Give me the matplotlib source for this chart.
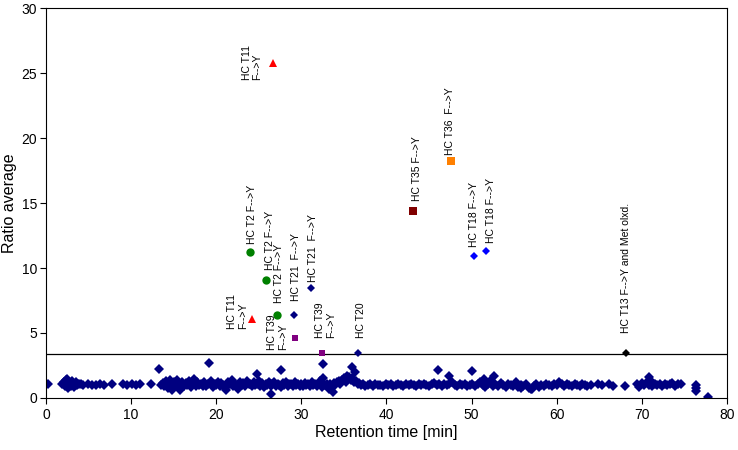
import numpy as np
import matplotlib
matplotlib.use("Agg")
import matplotlib.pyplot as plt

plt.rcParams['font.family'] = ['Liberation Sans', 'DejaVu Sans']

# bulk of identified peptides (ratio ~1)
bulk_x = [
    0.2, 1.9, 2.1, 2.2, 2.3, 2.4, 2.5, 2.6, 2.7, 2.8,
    2.9, 3.0, 3.1, 3.2, 3.3, 3.5, 3.7, 3.9, 4.1, 4.3,
    4.9, 5.4, 5.9, 6.4, 6.8, 7.7, 9.0, 9.5, 10.1, 10.6,
    11.1, 12.3, 13.25, 19.15,
    13.5, 13.7, 13.9, 14.1, 14.3, 14.5, 14.6, 14.8, 15.0, 15.2,
    15.4, 15.6, 15.8, 16.0, 16.2, 16.4, 16.6, 16.8, 17.0, 17.2,
    17.4, 17.6, 17.8, 18.0, 18.2, 18.4,
    18.6, 18.8, 19.0, 19.4, 19.6, 19.8, 20.0, 20.2, 20.4, 20.6,
    20.8, 21.0, 21.2, 21.4, 21.6, 21.8, 22.0, 22.2, 22.4, 22.6,
    22.8, 23.0, 23.2, 23.4, 23.6, 23.8,
    24.0, 24.2, 24.4, 24.6, 24.8, 25.0, 25.2, 25.4, 25.6, 25.8,
    26.0, 26.2, 26.4, 26.6, 26.8, 27.0, 27.2, 27.4, 27.6, 27.8,
    28.0, 28.2, 28.4, 28.6, 28.8, 29.0, 29.2, 29.4, 29.6, 29.8,
    24.8, 26.4, 27.6,
    30.0, 30.2, 30.4, 30.6, 30.8, 31.0, 31.2, 31.4, 31.6, 31.8,
    32.0, 32.2, 32.4, 32.6, 32.8, 33.0, 33.2, 33.4, 33.6, 33.8,
    34.0, 34.2, 34.4, 34.6, 34.8, 35.0, 35.2, 35.4, 35.6, 35.8,
    36.0, 36.2, 36.4, 36.6, 36.8, 37.0,
    32.6, 33.7, 36.0, 36.3,
    37.2, 37.5, 37.8, 38.1, 38.4, 38.7, 39.0, 39.3, 39.6, 39.9,
    40.2, 40.5, 40.8, 41.1, 41.4, 41.7, 42.0, 42.3, 42.6, 42.9,
    43.2, 43.5, 43.8, 44.1, 44.4, 44.7, 45.0, 45.3, 45.6, 45.9,
    46.2, 46.5, 46.8, 47.1, 47.4, 47.7, 48.0, 48.3, 48.6, 48.9,
    49.2, 49.5, 49.8, 50.1, 50.4, 50.7, 51.0, 51.3, 51.6, 51.9,
    52.2, 52.5, 52.8, 53.1, 53.4, 53.7, 54.0, 54.3, 54.6, 54.9,
    55.2, 55.5, 55.8, 56.1, 56.4, 56.7, 57.0, 57.3, 57.6, 57.9,
    58.2, 58.5, 58.8, 59.1, 59.4, 59.7, 60.0, 60.3, 60.6, 60.9,
    61.2, 61.5, 61.8, 62.1, 62.4, 62.7, 63.0, 63.3, 63.6,
    46.1, 47.4, 50.0, 52.6, 51.5, 57.1, 55.8,
    64.0, 64.9, 65.3, 66.2, 66.6, 68.0, 69.4, 69.7, 70.0, 70.3,
    70.6, 70.9, 71.2, 71.5, 71.8, 72.1, 72.4, 72.7, 73.0, 73.3,
    73.6, 73.9, 74.2, 74.6, 76.4, 76.4, 76.4, 77.8,
    70.9, 71.0,
]
bulk_y = [
    1.1, 1.05, 1.2, 0.9, 1.35, 1.0, 1.45, 0.8, 1.25, 1.1,
    0.95, 1.3, 1.0, 1.15, 0.85, 1.2, 1.0, 1.1, 1.05, 1.0,
    1.05, 1.0, 1.0, 1.05, 1.0, 1.1, 1.05, 1.0, 1.05, 1.0,
    1.05, 1.05, 2.23, 2.67,
    1.0, 1.15, 0.9, 1.3, 0.8, 1.1, 1.4, 0.6, 1.2, 0.95,
    1.35, 1.05, 0.65, 1.25, 0.9, 1.15, 1.0, 1.3, 0.85, 1.1,
    1.45, 0.95, 1.2, 1.0, 1.1, 0.9,
    1.2, 0.95, 1.05, 1.3, 0.85, 1.1, 1.0, 1.25, 0.9, 1.15,
    1.0, 0.8, 0.65, 1.2, 1.05, 1.35, 0.9, 1.1, 1.0, 0.7,
    1.25, 1.0, 1.15, 0.9, 1.3, 1.05,
    1.1, 0.9, 1.2, 1.0, 1.05, 1.3, 0.95, 1.15, 0.85, 1.1,
    1.0, 1.2, 0.9, 1.05, 1.25, 0.95, 1.1, 1.0, 0.85, 1.15,
    1.0, 1.2, 0.9, 1.05, 1.1, 0.95, 1.2, 1.0, 1.1, 0.9,
    1.82, 0.28, 2.15,
    1.05, 0.95, 1.15, 1.0, 1.1, 0.9, 1.2, 1.0, 1.05, 0.95,
    1.1, 1.3, 0.85, 1.5, 1.0, 1.1, 0.7, 1.05, 0.9, 1.15,
    1.0, 1.2, 1.3, 1.1, 1.4, 1.5, 1.25, 1.7, 1.6, 1.35,
    1.5, 1.2, 1.3, 1.05, 1.15, 1.0,
    2.6, 0.44, 2.4, 2.0,
    1.05, 0.95, 1.0, 1.1, 0.95, 1.05, 1.0, 1.0, 0.95, 1.05,
    1.0, 1.1, 0.95, 1.0, 1.05, 1.0, 0.95, 1.05, 1.0, 1.1,
    1.0, 0.95, 1.05, 1.0, 1.1, 1.0, 0.95, 1.05, 1.15, 1.0,
    1.05, 0.95, 1.1, 1.0, 1.05, 1.2, 1.0, 0.95, 1.1, 1.0,
    1.05, 0.95, 1.0, 1.1, 0.9, 1.05, 1.2, 1.0, 0.85, 1.1,
    1.3, 0.95, 1.05, 0.9, 1.15, 1.0, 0.85, 1.1, 1.0, 0.9,
    1.2, 0.85, 1.0, 0.95, 1.1, 0.8, 0.7, 0.9, 1.05, 0.85,
    1.0, 0.95, 1.05, 1.0, 0.9, 1.05, 1.0, 1.2, 1.1, 0.95,
    1.05, 1.0, 0.9, 1.05, 1.0, 0.95, 1.05, 1.0, 0.95,
    2.15, 1.72, 2.1, 1.72, 1.43, 0.7, 0.8,
    1.0, 1.05, 1.0, 1.1, 0.95, 0.9, 1.05, 0.85, 1.15, 1.0,
    1.2, 1.0, 0.9, 1.1, 1.0, 1.05, 0.95, 1.1, 1.0, 1.05,
    1.15, 0.95, 1.1, 1.05, 1.0, 0.75, 0.5, 0.1,
    1.6, 1.35,
]

threshold = 3.4

# labelled outliers: (x, y) per series
t11_x, t11_y = [26.65, 24.2], [25.8, 6.05]
t2_x, t2_y = [24.0, 25.8, 27.1], [11.2, 9.1, 6.35]
t21_x, t21_y = [29.1, 31.1], [6.4, 8.5]
t39_x, t39_y = [29.3, 32.4], [4.65, 3.45]
t20_x, t20_y = [36.7], [3.45]
t35_x, t35_y = [43.1], [14.4]
t36_x, t36_y = [47.6], [18.2]
t18_x, t18_y = [50.3, 51.7], [10.9, 11.3]
t13_x, t13_y = [68.2], [3.45]

t11_lab = ["HC T11\nF-->Y", "HC T11\nF-->Y"]
t2_lab = ["HC T2 F-->Y", "HC T2 F-->Y", "HC T2 F-->Y"]
t21_lab = ["HC T21  F-->Y", "HC T21  F-->Y"]
t39_lab = ["HC T39\nF-->Y", "HC T39\nF-->Y"]
t20_lab = ["HC T20"]
t35_lab = ["HC T35 F-->Y"]
t36_lab = ["HC T36  F-->Y"]
t18_lab = ["HC T18 F-->Y", "HC T18 F-->Y"]
t13_lab = ["HC T13 F-->Y and Met olxd."]

fig = plt.figure(figsize=(7.38, 4.5), dpi=100)
ax = fig.add_axes([0.0623, 0.1156, 0.9227, 0.8664])

ax.axhline(threshold, color='black', lw=0.9, zorder=1)
ax.plot(bulk_x, bulk_y, 'D', color='#000080', ms=4.6, mew=0, zorder=2)

series = [
    (t11_x, t11_y, t11_lab, '^', '#ff0000', 5.8),
    (t2_x, t2_y, t2_lab, 'o', '#008000', 6.0),
    (t21_x, t21_y, t21_lab, 'D', '#000080', 4.2),
    (t39_x, t39_y, t39_lab, 's', '#800080', 3.8),
    (t20_x, t20_y, t20_lab, 'D', '#000080', 4.2),
    (t35_x, t35_y, t35_lab, 's', '#800000', 5.2),
    (t36_x, t36_y, t36_lab, 's', '#ff8000', 5.2),
    (t18_x, t18_y, t18_lab, 'D', '#0000ff', 4.2),
    (t13_x, t13_y, t13_lab, 'D', '#000000', 4.2),
]
for xs, ys, labs, mk, col, ms in series:
    ax.plot(xs, ys, mk, color=col, ms=ms, mew=0, zorder=3)

# label offsets in points (dx, dy); some labels sit beside the marker
offsets = {
    't11': [(-15, 0), (-10.5, 6)],
    't2': [(1, 6), (3.5, 7), (1.5, 9)],
    't21': [(1.5, 10), (1.5, 4)],
    't39': [(-13, 4), (2.5, 11)],
    't20': [(2, 11)],
    't35': [(3, 7)],
    't36': [(-0.5, 4.5)],
    't18': [(0, 7), (3.5, 6)],
    't13': [(0, 14.5)],
}
keys = ['t11', 't2', 't21', 't39', 't20', 't35', 't36', 't18', 't13']
for key, (xs, ys, labs, mk, col, ms) in zip(keys, series):
    for i, (x, y, lab) in enumerate(zip(xs, ys, labs)):
        dx, dy = offsets[key][i]
        side = key == 't11' or (key == 't39' and i == 0)
        ax.annotate(lab, (x, y), xytext=(dx, dy), textcoords='offset points',
                    rotation=90, fontsize=7.5, ha='center',
                    va='center' if side else 'bottom',
                    multialignment='left', linespacing=1.1)

ax.set_xlim(0, 80)
ax.set_ylim(0, 30)
ax.set_xticks(np.arange(0, 81, 10))
ax.set_yticks(np.arange(0, 31, 5))
ax.tick_params(direction='out', length=4, width=0.8, labelsize=10)
ax.tick_params(axis='y', pad=2.5)
for s in ax.spines.values():
    s.set_linewidth(0.8)
ax.set_xlabel('Retention time [min]', fontsize=11.5, labelpad=2)
ax.set_ylabel('Ratio average', fontsize=11.5)
ax.yaxis.set_label_coords(-0.043, 0.5)

fig.savefig('out.png', dpi=100)
